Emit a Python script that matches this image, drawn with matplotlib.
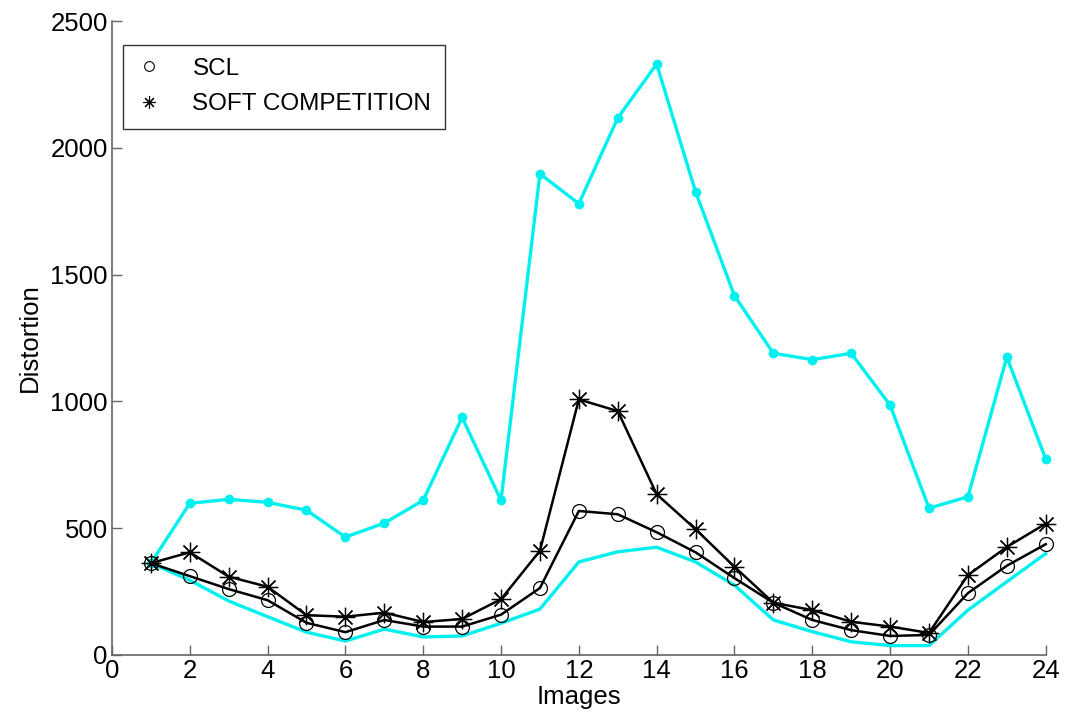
import matplotlib
matplotlib.use("Agg")
import matplotlib.pyplot as plt
from matplotlib.lines import Line2D

plt.rcParams['font.family'] = ['Liberation Sans', 'DejaVu Sans']

images = list(range(1, 25))

upper = [362, 598, 614, 602, 571, 465, 520, 610, 937, 610, 1898, 1780,
         2118, 2331, 1827, 1417, 1190, 1165, 1190, 985, 579, 624, 1175, 773]
lower = [362, 295, 213, 151, 90, 55, 102, 71, 75, 125, 181, 367,
         407, 425, 367, 275, 138, 92, 52, 37, 37, 177, 289, 400]
scl = [362, 311, 260, 216, 127, 90, 138, 112, 112, 159, 264, 568,
       555, 484, 405, 303, 206, 138, 98, 75, 79, 244, 352, 437]
soft = [362, 405, 309, 269, 157, 151, 167, 130, 142, 220, 411, 1008,
        962, 634, 496, 348, 206, 177, 131, 112, 87, 315, 426, 518]

cyan = '#00f0f0'
star = (8, 2, 0)

fig = plt.figure(figsize=(10.66, 7.17), dpi=100)
ax = fig.add_axes([0.105, 0.0865, 0.876, 0.884])

ax.plot(images, upper, color=cyan, lw=2.4, marker='o', ms=6, clip_on=False)
ax.plot(images, lower, color=cyan, lw=2.4, clip_on=False)
ax.plot(images, scl, color='black', lw=1.8, marker='o', ms=10,
        mfc='none', mec='black', mew=0.9, clip_on=False)
ax.plot(images, soft, color='black', lw=1.8, marker=star, ms=14,
        mec='black', mew=0.9, clip_on=False)

ax.set_xlim(0, 24)
ax.set_ylim(0, 2500)
ax.set_xticks(range(0, 25, 2))
ax.set_yticks(range(0, 2501, 500))
for s in ['top', 'right']:
    ax.spines[s].set_visible(False)
for s in ['left', 'bottom']:
    ax.spines[s].set_color('#666666')
    ax.spines[s].set_linewidth(1.2)
ax.tick_params(direction='in', length=7, width=1, color='#666666',
               labelsize=18.5, pad=3)
ax.set_xlabel('Images', fontsize=18.5, labelpad=1)
ax.set_ylabel('Distortion', fontsize=18.5, labelpad=6)

handles = [Line2D([], [], ls='none', marker='o', ms=7, mfc='none',
                  mec='black', mew=0.8),
           Line2D([], [], ls='none', marker=star, ms=9, mec='black',
                  mew=0.8)]
leg = ax.legend(handles, ['SCL', 'SOFT COMPETITION'], loc='upper left',
                bbox_to_anchor=(0.012, 0.963), fontsize=17.5, frameon=True,
                fancybox=False, edgecolor='black', handlelength=1.0,
                handletextpad=1.3, labelspacing=0.55, borderpad=0.55,
                borderaxespad=0)
leg.get_frame().set_linewidth(1.0)

fig.savefig('out.png', dpi=100)
